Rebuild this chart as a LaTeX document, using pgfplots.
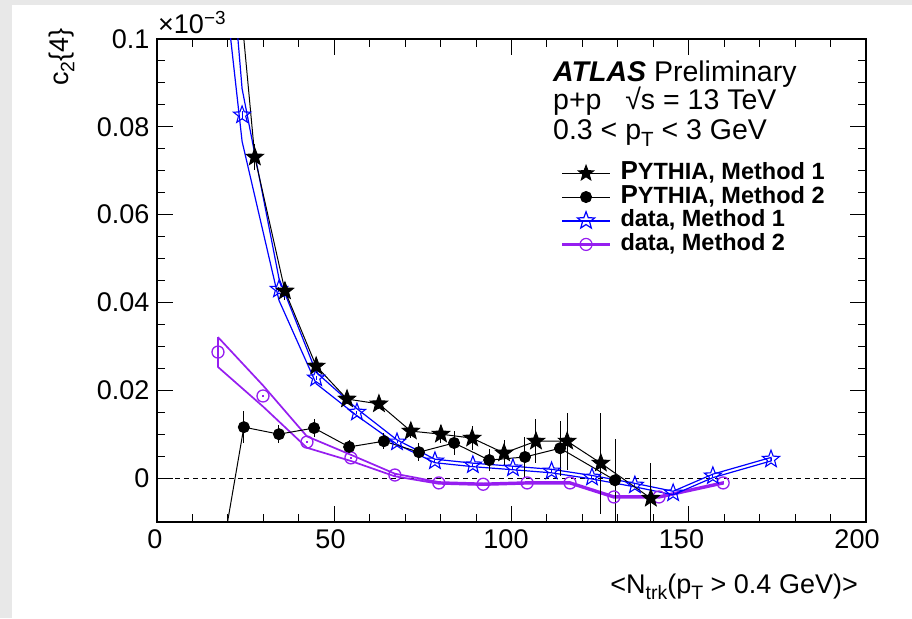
\documentclass[border=0pt]{standalone}
\usepackage{pgfplots}
\pgfplotsset{compat=1.18}
\usepackage{fontspec}
\setmainfont{Liberation Sans}
\usepackage{graphicx}

\definecolor{rootviolet}{RGB}{150,30,240}
\definecolor{bggray}{RGB}{232,232,232}

\newcommand\lsub[1]{\raisebox{-0.45ex}{\scalebox{0.72}{#1}}}

\pgfdeclareplotmark{fstar}{%
 \pgfpathmoveto{\pgfpointpolar{90}{\pgfplotmarksize}}%
 \pgfpathlineto{\pgfpointpolar{126}{0.42\pgfplotmarksize}}%
 \pgfpathlineto{\pgfpointpolar{162}{\pgfplotmarksize}}%
 \pgfpathlineto{\pgfpointpolar{198}{0.42\pgfplotmarksize}}%
 \pgfpathlineto{\pgfpointpolar{234}{\pgfplotmarksize}}%
 \pgfpathlineto{\pgfpointpolar{270}{0.42\pgfplotmarksize}}%
 \pgfpathlineto{\pgfpointpolar{306}{\pgfplotmarksize}}%
 \pgfpathlineto{\pgfpointpolar{342}{0.42\pgfplotmarksize}}%
 \pgfpathlineto{\pgfpointpolar{18}{\pgfplotmarksize}}%
 \pgfpathlineto{\pgfpointpolar{54}{0.42\pgfplotmarksize}}%
 \pgfpathclose
 \pgfusepathqfillstroke}
\pgfdeclareplotmark{ostar}{%
 \pgfpathmoveto{\pgfpointpolar{90}{\pgfplotmarksize}}%
 \pgfpathlineto{\pgfpointpolar{126}{0.42\pgfplotmarksize}}%
 \pgfpathlineto{\pgfpointpolar{162}{\pgfplotmarksize}}%
 \pgfpathlineto{\pgfpointpolar{198}{0.42\pgfplotmarksize}}%
 \pgfpathlineto{\pgfpointpolar{234}{\pgfplotmarksize}}%
 \pgfpathlineto{\pgfpointpolar{270}{0.42\pgfplotmarksize}}%
 \pgfpathlineto{\pgfpointpolar{306}{\pgfplotmarksize}}%
 \pgfpathlineto{\pgfpointpolar{342}{0.42\pgfplotmarksize}}%
 \pgfpathlineto{\pgfpointpolar{18}{\pgfplotmarksize}}%
 \pgfpathlineto{\pgfpointpolar{54}{0.42\pgfplotmarksize}}%
 \pgfpathclose
 \pgfusepathqstroke}

\begin{document}
\begin{tikzpicture}
\fill[bggray] (0pt,0pt) rectangle (912pt,618pt);
\fill[white] (12pt,0pt) rectangle (912pt,613pt);
\begin{axis}[
  at={(157pt,96pt)}, anchor=south west, scale only axis,
  width=709pt, height=483pt,
  xmin=0, xmax=200, ymin=-0.01, ymax=0.1,
  xtick={0,50,100,150,200}, xticklabels={0,50,100,150,200},
  ytick={0,0.02,0.04,0.06,0.08,0.1}, yticklabels={0,0.02,0.04,0.06,0.08,0.1},
  minor x tick num=4, minor y tick num=3,
  tick align=inside, major tick length=16pt, minor tick length=8pt,
  tick style={line width=1pt, black},
  axis line style={line width=1.2pt},
  /pgf/number format/assume math mode=true,
  tick label style={font=\fontsize{27}{30}\selectfont},
  xticklabel style={yshift=-4pt, xshift={-2pt-1.75pt*\ticknum}},
  yticklabel style={xshift=-4pt},
  clip=true,
  legend style={draw=none, fill=none, at={(0.571,0.744)}, anchor=north west,
    inner sep=0pt, row sep=2.7pt, font=\bfseries\fontsize{23.5}{25}\selectfont,
    nodes={inner sep=0.5pt, text height=16pt, text depth=4pt},
    /tikz/every odd column/.append style={column sep=10pt}},
  legend cell align=left,
  legend image code/.code={\path[draw=none,fill=none,use as bounding box] (0pt,-7pt) rectangle (48pt,7pt);
    \draw[#1,mark=none] (0pt,0pt) -- (48pt,0pt); \draw[#1] plot coordinates {(24pt,0pt)};},
]
% zero line
\addplot[forget plot, black, line width=1pt, dash pattern=on 5pt off 4pt] coordinates {(0,0) (200,0)};

% data Method 2 band (upper, then lower reversed)
\addplot[forget plot, rootviolet, line width=1.7pt] coordinates {
 (17.2,0.0321) (29.9,0.0211) (42.3,0.0095) (54.7,0.0053) (67.1,0.0010) (79.5,-0.0009)
 (92.0,-0.0012) (104.4,-0.0009) (116.5,-0.0009) (128.9,-0.0041) (141.6,-0.0041) (159.7,-0.0009)
 (159.7,-0.0013) (141.6,-0.0045) (128.9,-0.0045) (116.5,-0.0013) (104.4,-0.0013) (92.0,-0.0016)
 (79.5,-0.0013) (67.1,0.0004) (54.7,0.0039) (42.3,0.0069) (29.9,0.0163) (17.2,0.0253) (17.2,0.0321)
};

% data Method 1 band
\addplot[forget plot, blue, line width=1.2pt] coordinates {
 (19,0.137) (24.0,0.0887) (34.4,0.0455) (44.9,0.0241) (56.4,0.0158) (67.7,0.0087) (78.4,0.0043)
 (89.1,0.0034) (100.4,0.0027) (111.3,0.0020) (122.7,0.0006) (134.8,-0.0012) (145.6,-0.0030)
 (156.8,0.0009) (173.2,0.0047)
 (173.2,0.0039) (156.8,0.0001) (145.6,-0.0038) (134.8,-0.0020) (122.7,-0.0002) (111.3,0.0012)
 (100.4,0.0019) (89.1,0.0026) (78.4,0.0035) (67.7,0.0077) (56.4,0.0142) (44.9,0.0215)
 (34.4,0.0405) (24.0,0.0767) (19,0.113) (19,0.137)
};

% data Method 2 points
\addplot[forget plot, only marks, mark=o, rootviolet, mark size=6pt, line width=1.3pt,
  error bars/.cd, y dir=both, y explicit, error mark=none,
  error bar style={line width=1.6pt, rootviolet}] coordinates {
 (17.2,0.0287) +- (0,0.0023)
 (29.9,0.0187) +- (0,0.0003)
 (42.3,0.0082) +- (0,0.0003)
 (54.7,0.0046) +- (0,0.0003)
 (67.1,0.0007) +- (0,0.0002)
 (79.5,-0.0011) +- (0,0.0002)
 (92.0,-0.0014) +- (0,0.0002)
 (104.4,-0.0011) +- (0,0.0002)
 (116.5,-0.0011) +- (0,0.0002)
 (128.9,-0.0043) +- (0,0.0002)
 (141.6,-0.0043) +- (0,0.0002)
 (159.7,-0.0011) +- (0,0.0002)
};

% data Method 1 points
\addplot[forget plot, only marks, mark=ostar, blue, mark size=9pt, line width=1.1pt,
  error bars/.cd, y dir=both, y explicit, error mark=none,
  error bar style={line width=1pt, blue}] coordinates {
 (19,0.125) +- (0,0.001)
 (24.0,0.0827) +- (0,0.0010)
 (34.4,0.0430) +- (0,0.0006)
 (44.9,0.0228) +- (0,0.0004)
 (56.4,0.0150) +- (0,0.0003)
 (67.7,0.0082) +- (0,0.0003)
 (78.4,0.0039) +- (0,0.0003)
 (89.1,0.0030) +- (0,0.0003)
 (100.4,0.0023) +- (0,0.0003)
 (111.3,0.0016) +- (0,0.0003)
 (122.7,0.0002) +- (0,0.0003)
 (134.8,-0.0016) +- (0,0.0003)
 (145.6,-0.0034) +- (0,0.0003)
 (156.8,0.0005) +- (0,0.0003)
 (173.2,0.0043) +- (0,0.0003)
};

% PYTHIA Method 2
\addplot[forget plot, black, line width=1pt, mark=*, mark size=5.5pt,
  error bars/.cd, y dir=both, y explicit, error mark=none,
  error bar style={line width=1pt, black}] coordinates {
 (15,-0.033) +- (0,0.003)
 (24.5,0.0116) +- (0,0.0036)
 (34.4,0.0100) +- (0,0.0020)
 (44.3,0.0114) +- (0,0.0020)
 (54.2,0.0071) +- (0,0.0015)
 (64.0,0.0084) +- (0,0.0018)
 (73.9,0.0059) +- (0,0.0020)
 (83.8,0.0080) +- (0,0.0027)
 (93.7,0.0041) +- (0,0.0025)
 (103.8,0.0048) +- (0,0.0045)
 (113.7,0.0068) +- (0,0.0063)
 (129.2,-0.0005) +- (0,0.0093)
};

% PYTHIA Method 1
\addplot[forget plot, black, line width=1pt, mark=fstar, mark size=9pt, mark options={fill=black},
  error bars/.cd, y dir=both, y explicit, error mark=none,
  error bar style={line width=1pt, black}] coordinates {
 (18.5,0.152) +- (0,0.003)
 (27.6,0.0731) +- (0,0.0030)
 (36.1,0.0426) +- (0,0.0020)
 (44.9,0.0255) +- (0,0.0015)
 (53.6,0.0180) +- (0,0.0012)
 (62.6,0.0169) +- (0,0.0012)
 (71.6,0.0107) +- (0,0.0015)
 (80.1,0.0100) +- (0,0.0020)
 (88.9,0.0091) +- (0,0.0027)
 (97.9,0.0057) +- (0,0.0030)
 (106.9,0.0084) +- (0,0.0050)
 (115.7,0.0084) +- (0,0.0065)
 (125.2,0.0034) +- (0,0.0115)
 (139.3,-0.0046) +- (0,0.0080)
};

\addlegendimage{black, line width=1pt, mark=fstar, mark size=8pt, mark options={fill=black}}
\addlegendentry{{\fontsize{26}{27}\selectfont P}YTHIA, Method 1}
\addlegendimage{black, line width=1pt, mark=*, mark size=5.5pt}
\addlegendentry{{\fontsize{26}{27}\selectfont P}YTHIA, Method 2}
\addlegendimage{blue, line width=2.2pt, mark=ostar, mark size=9pt, mark options={line width=1.2pt}}
\addlegendentry{data, Method 1}
\addlegendimage{rootviolet, line width=2.2pt, mark=o, mark size=6pt, mark options={line width=1.2pt}}
\addlegendentry{data, Method 2}
\end{axis}

\node[anchor=base west, font=\fontsize{28.5}{30}\selectfont, inner sep=0pt] at (553pt,536pt) {\textbf{\textit{ATLAS}} Preliminary};
\node[anchor=base west, font=\fontsize{28.5}{30}\selectfont, inner sep=0pt] at (553pt,508pt) {p+p\ \ \ √s = 13 TeV};
\node[anchor=base west, font=\fontsize{28.5}{30}\selectfont, inner sep=0pt] at (553pt,478pt) {0.3 < p\lsub{T} < 3 GeV};

\node[rotate=90, anchor=base east, font=\fontsize{27}{30}\selectfont, inner sep=0pt] at (68pt,590pt) {c\lsub{2}\{4\}};
\node[anchor=base east, font=\fontsize{27}{30}\selectfont, inner sep=0pt] at (858pt,25pt) {<N\lsub{trk}(p\lsub{T} > 0.4 GeV)>};
\node[anchor=base west, font=\fontsize{27}{30}\selectfont, inner sep=0pt] at (158pt,584pt) {×10\textsuperscript{−3}};
\end{tikzpicture}
\end{document}
